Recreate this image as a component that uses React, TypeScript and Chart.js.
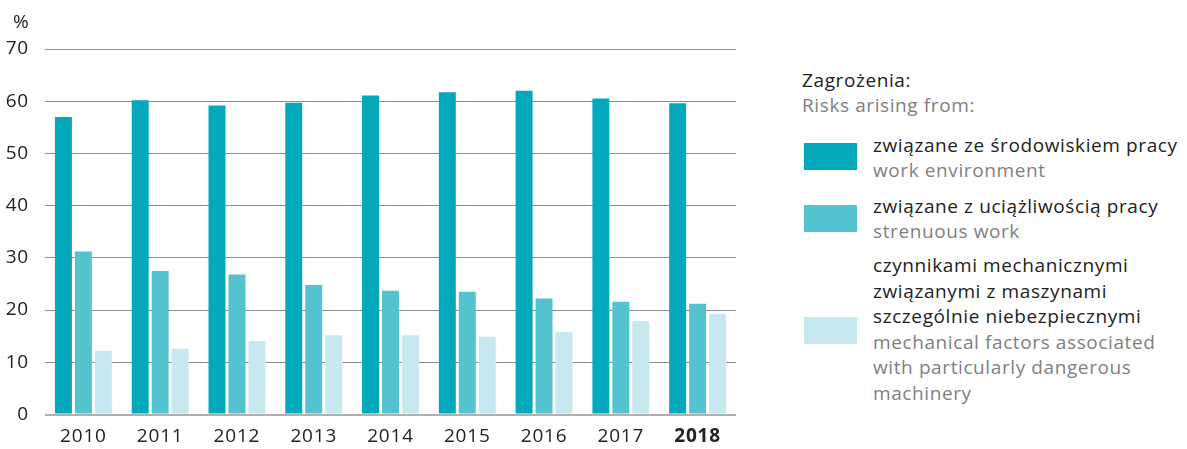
import React, { useEffect, useRef } from "react";
import { Chart, registerables } from "chart.js";

Chart.register(...registerables);

const years = ["2010", "2011", "2012", "2013", "2014", "2015", "2016", "2017", "2018"];
const workEnvironment = [57.0, 60.2, 59.2, 59.7, 61.1, 61.7, 62.0, 60.5, 59.6];
const strenuousWork = [31.2, 27.5, 26.8, 24.8, 23.7, 23.5, 22.2, 21.6, 21.2];
const mechanicalFactors = [12.2, 12.6, 14.1, 15.2, 15.2, 14.9, 15.8, 17.9, 19.3];
const yTicks = [0, 10, 20, 30, 40, 50, 60, 70];

const seriesColors = ["#03a9ba", "#53c3d0", "#c7e8ef"];
const legendTitlePl = "Zagrożenia:";
const legendTitleEn = "Risks arising from:";
const legendPl = [
  ["związane ze środowiskiem pracy"],
  ["związane z uciążliwością pracy"],
  ["czynnikami mechanicznymi", "związanymi z maszynami", "szczególnie niebezpiecznymi"],
];
const legendEn = [
  ["work environment"],
  ["strenuous work"],
  ["mechanical factors associated", "with particularly dangerous", "machinery"],
];

const FONT = "'Open Sans', 'Noto Sans', sans-serif";

const spacingPlugin = {
  id: "letterSpacing",
  beforeDraw(chart: any) {
    chart.ctx.letterSpacing = "0.8px";
  },
};

export default function App() {
  const ref = useRef<HTMLCanvasElement>(null);

  useEffect(() => {
    document.body.style.margin = "0";
    const chart = new Chart(ref.current!, {
      type: "bar",
      data: {
        labels: years,
        datasets: [
          { label: legendEn[0].join(" "), data: workEnvironment, backgroundColor: seriesColors[0] },
          { label: legendEn[1].join(" "), data: strenuousWork, backgroundColor: seriesColors[1] },
          { label: legendEn[2].join(" "), data: mechanicalFactors, backgroundColor: seriesColors[2] },
        ],
      },
      plugins: [spacingPlugin],
      options: {
        animation: false,
        responsive: false,
        maintainAspectRatio: false,
        layout: { padding: { top: 49, left: 0, right: 4, bottom: 0 } },
        datasets: { bar: { categoryPercentage: 0.78, barPercentage: 0.85 } },
        plugins: { legend: { display: false }, tooltip: { enabled: false } },
        scales: {
          x: {
            grid: { display: false, drawTicks: false },
            border: { display: false },
            ticks: {
              padding: 11,
              color: "#222",
              font: (ctx: any) => ({
                family: FONT,
                size: 19,
                weight: ctx.index === years.length - 1 ? "bold" : "normal",
              }),
            },
            afterFit: (s: any) => {
              s.height = 34.5;
            },
          },
          y: {
            min: 0,
            max: 70,
            afterBuildTicks: (s: any) => {
              s.ticks = yTicks.map((v) => ({ value: v }));
            },
            grid: {
              drawTicks: false,
              color: (ctx: any) => (ctx.tick && ctx.tick.value === 0 ? "#b0b0b0" : "#8c8c8c"),
              lineWidth: (ctx: any) => (ctx.tick && ctx.tick.value === 0 ? 2 : 1),
            },
            border: { display: false },
            ticks: { padding: 16, color: "#222", font: { family: FONT, size: 19 } },
            afterFit: (s: any) => {
              s.width = 45;
            },
          },
        },
      },
    });
    return () => chart.destroy();
  }, []);

  const textStyle: React.CSSProperties = {
    position: "absolute",
    fontFamily: FONT,
    fontSize: 19,
    letterSpacing: "0.6px",
    lineHeight: "25.5px",
    whiteSpace: "nowrap",
  };
  const swatchTops = [143, 205, 317];
  const textTops = [132.5, 193.5, 253];

  return (
    <div style={{ position: "relative", width: 1187, height: 449, background: "#fff" }}>
      <canvas ref={ref} width={740} height={449} style={{ position: "absolute", left: 0, top: 0 }} />
      <div style={{ ...textStyle, left: 13, top: 9, color: "#222" }}>%</div>
      <div style={{ ...textStyle, left: 802, top: 67.5, color: "#222" }}>{legendTitlePl}</div>
      <div style={{ ...textStyle, left: 802, top: 92.5, color: "#808080" }}>{legendTitleEn}</div>
      {legendPl.map((pl, i) => (
        <React.Fragment key={i}>
          <div
            style={{
              position: "absolute",
              left: 804,
              top: swatchTops[i],
              width: 53,
              height: 27,
              background: seriesColors[i],
            }}
          />
          <div style={{ ...textStyle, left: 873, top: textTops[i] }}>
            {pl.map((t, j) => (
              <div key={"p" + j} style={{ color: "#222" }}>{t}</div>
            ))}
            {legendEn[i].map((t, j) => (
              <div key={"e" + j} style={{ color: "#808080" }}>{t}</div>
            ))}
          </div>
        </React.Fragment>
      ))}
    </div>
  );
}
